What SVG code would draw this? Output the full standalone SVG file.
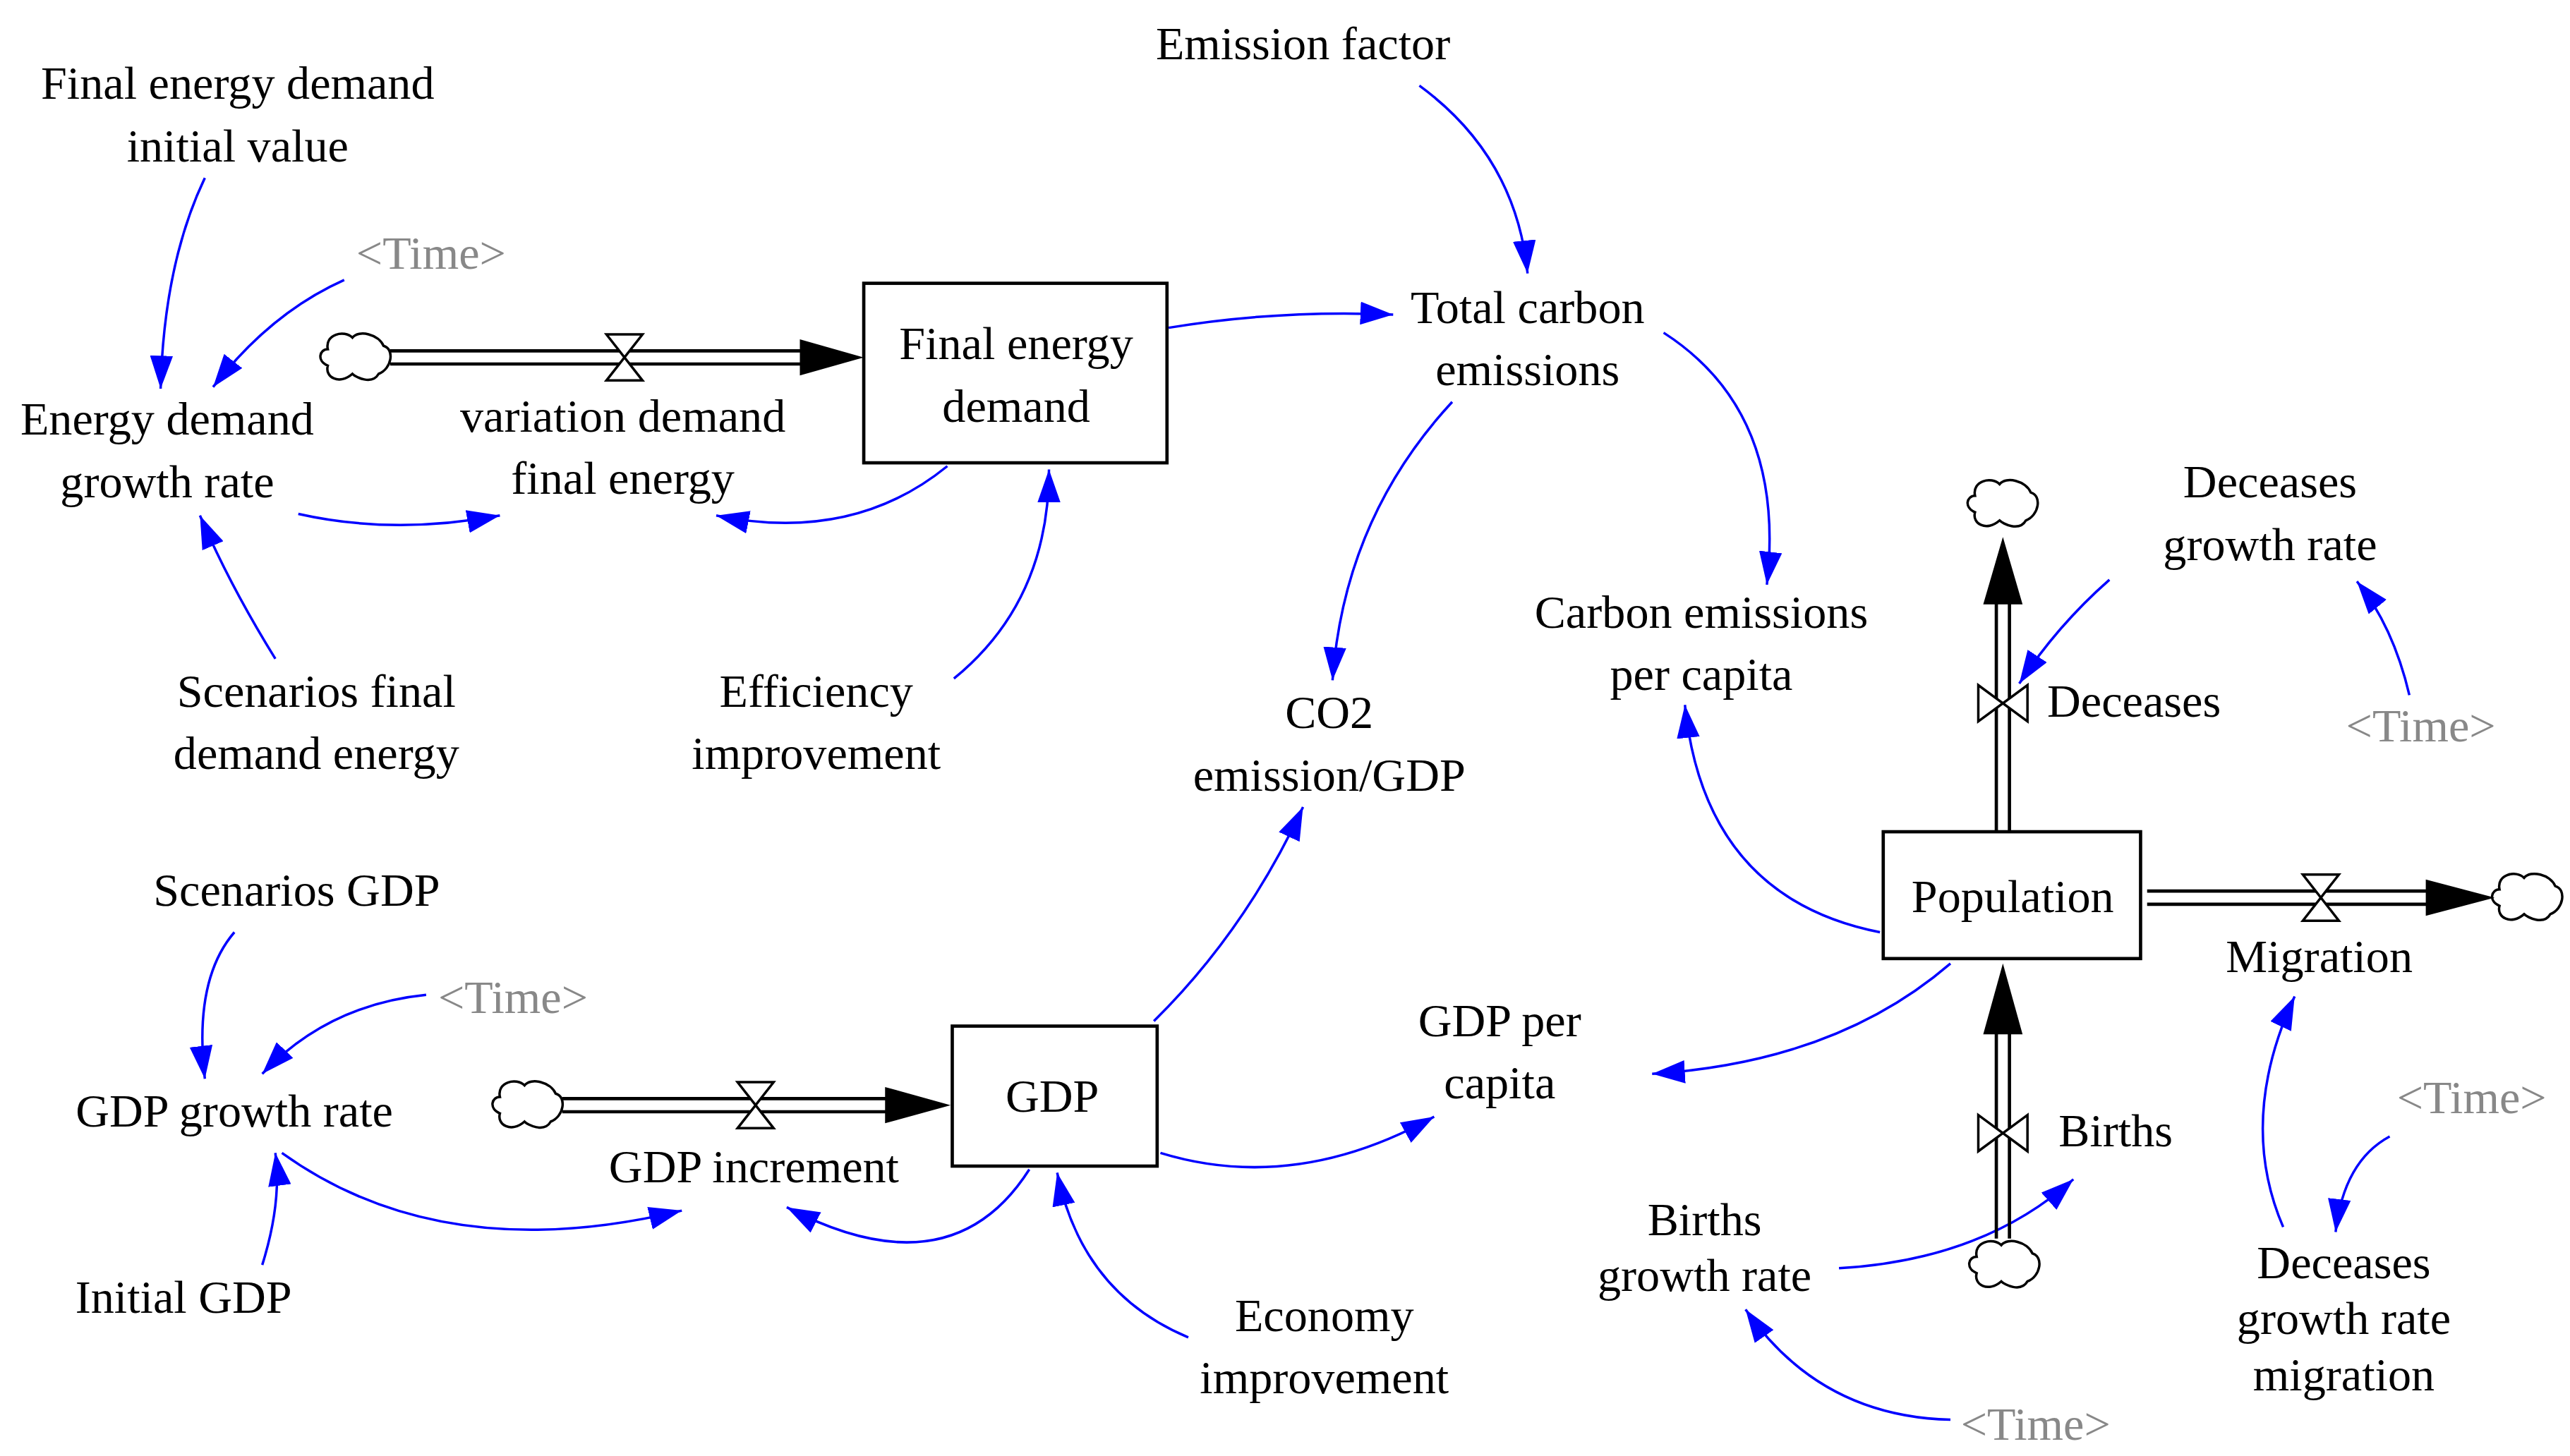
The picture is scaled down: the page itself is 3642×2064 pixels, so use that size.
<svg xmlns="http://www.w3.org/2000/svg" width="3642" height="2064" viewBox="0 0 3642 2064">
<style>
text{font-family:"Liberation Serif","Times New Roman",serif;font-size:28.5px;fill:#000;text-anchor:middle}
.g{fill:#888}
.l{text-anchor:start}
.c{fill:none;stroke:#0000ff;stroke-width:1.5;marker-end:url(#a)}
.box{fill:#fff;stroke:#000;stroke-width:2}
.p{stroke:#000;stroke-width:2;fill:none}
.cl{fill:#fff;stroke:#000;stroke-width:1.5}
.v{fill:#fff;stroke:#000;stroke-width:1.5}
</style>
<defs>
<marker id="a" viewBox="0 0 20 14" refX="20" refY="7" markerWidth="20" markerHeight="14" orient="auto" markerUnits="userSpaceOnUse"><path d="M0,0L20,7L0,14z" fill="#0000ff"/></marker>
<path id="cloud" d="M-17,-5C-19,-14 -7,-17 -2,-12C2,-17 14,-14 17,-7C24,-5 22,7 14,10C10,17 0,12 -2,10C-10,17 -19,12 -17,5C-24,2 -22,-5 -17,-5z"/>
</defs>
<rect width="3642" height="2064" fill="#fff"/>
<g transform="scale(2.3227,2.3348)">
<g id="connectors">
<path class="c" d="M125,108Q100,160 98,236"/>
<path class="c" d="M210,170Q165,190 130,235"/>
<path class="c" d="M182,312Q240,325 305,313"/>
<path class="c" d="M578,283Q520,330 437,313"/>
<path class="c" d="M168,400Q140,355 122,313"/>
<path class="c" d="M582,412Q640,365 640,285"/>
<path class="c" d="M713,199Q780,188 850,191"/>
<path class="c" d="M866,52Q925,95 932,166"/>
<path class="c" d="M886,244Q820,315 813,413"/>
<path class="c" d="M1015,202Q1090,250 1078,355"/>
<path class="c" d="M1147,566Q1040,545 1028,428"/>
<path class="c" d="M1287,352Q1255,380 1232,415"/>
<path class="c" d="M1470,422Q1460,380 1438,353"/>
<path class="c" d="M143,566Q118,595 125,655"/>
<path class="c" d="M260,604Q200,610 160,652"/>
<path class="c" d="M172,700Q270,770 416,735"/>
<path class="c" d="M160,768Q172,730 168,700"/>
<path class="c" d="M628,710Q580,785 480,733"/>
<path class="c" d="M725,812Q660,785 645,712"/>
<path class="c" d="M704,620Q760,565 795,490"/>
<path class="c" d="M708,700Q790,725 875,678"/>
<path class="c" d="M1190,585Q1120,645 1008,652"/>
<path class="c" d="M1122,770Q1210,765 1265,716"/>
<path class="c" d="M1190,862Q1110,860 1065,795"/>
<path class="c" d="M1393,745Q1365,680 1400,605"/>
<path class="c" d="M1458,690Q1430,705 1425,748"/>
</g>
<g id="flow-energy">
<use href="#cloud" x="217" y="217" class="cl"/>
<path class="p" d="M238,213H490M238,221H490"/>
<path d="M488,206L527,217L488,228z"/>
<path class="v" d="M370,203H392L370,231H392z"/>
</g>
<g id="flow-gdp">
<use href="#cloud" x="322" y="671" class="cl"/>
<path class="p" d="M343,667H542M343,675H542"/>
<path d="M540,660L580,671L540,682z"/>
<path class="v" d="M450,657H472L450,685H472z"/>
</g>
<g id="flow-deceases">
<use href="#cloud" x="1222" y="306" class="cl"/>
<path class="p" d="M1218,505V365M1226,505V365"/>
<path d="M1210,367L1222,326L1234,367z"/>
<path class="v" d="M1207,416V438L1237,416V438z"/>
</g>
<g id="flow-births">
<use href="#cloud" x="1223" y="768" class="cl"/>
<path class="p" d="M1218,752V625M1226,752V625"/>
<path d="M1210,628L1222,585L1234,628z"/>
<path class="v" d="M1207,677V699L1237,677V699z"/>
</g>
<g id="flow-migration">
<use href="#cloud" x="1542" y="545" class="cl"/>
<path class="p" d="M1310,541H1482M1310,549H1482"/>
<path d="M1480,534L1522,545L1480,556z"/>
<path class="v" d="M1405,531H1427L1405,559H1427z"/>
</g>
<g id="n-fed"><rect class="box" x="527" y="172" width="185" height="109"/><text x="620" y="218">Final energy</text><text x="620" y="256">demand</text></g>
<g id="n-gdp"><rect class="box" x="581" y="623" width="125" height="85"/><text x="642" y="675">GDP</text></g>
<g id="n-pop"><rect class="box" x="1149" y="505" width="157" height="77"/><text x="1228" y="554">Population</text></g>
<g id="n-fediv"><text x="145" y="60">Final energy demand</text><text x="145" y="98">initial value</text></g>
<g id="n-time1"><text class="g" x="263" y="163">&lt;Time&gt;</text></g>
<g id="n-edgr"><text x="102" y="264">Energy demand</text><text x="102" y="302">growth rate</text></g>
<g id="n-vdfe"><text x="380" y="262">variation demand</text><text x="380" y="300">final energy</text></g>
<g id="n-ef"><text x="795" y="36">Emission factor</text></g>
<g id="n-tce"><text x="932" y="196">Total carbon</text><text x="932" y="234">emissions</text></g>
<g id="n-cepc"><text x="1038" y="381">Carbon emissions</text><text x="1038" y="419">per capita</text></g>
<g id="n-sfde"><text x="193" y="429">Scenarios final</text><text x="193" y="467">demand energy</text></g>
<g id="n-ei"><text x="498" y="429">Efficiency</text><text x="498" y="467">improvement</text></g>
<g id="n-co2"><text x="811" y="442">CO2</text><text x="811" y="480">emission/GDP</text></g>
<g id="n-sgdp"><text x="181" y="550">Scenarios GDP</text></g>
<g id="n-time2"><text class="g" x="313" y="615">&lt;Time&gt;</text></g>
<g id="n-ggr"><text x="143" y="684">GDP growth rate</text></g>
<g id="n-gi"><text x="460" y="718">GDP increment</text></g>
<g id="n-gpc"><text x="915" y="629">GDP per</text><text x="915" y="667">capita</text></g>
<g id="n-igdp"><text x="112" y="797">Initial GDP</text></g>
<g id="n-eci"><text x="808" y="808">Economy</text><text x="808" y="846">improvement</text></g>
<g id="n-dec"><text class="l" x="1249" y="435">Deceases</text></g>
<g id="n-dgr"><text x="1385" y="302">Deceases</text><text x="1385" y="340">growth rate</text></g>
<g id="n-time3"><text class="g" x="1477" y="450">&lt;Time&gt;</text></g>
<g id="n-mig"><text x="1415" y="590">Migration</text></g>
<g id="n-bir"><text class="l" x="1256" y="696">Births</text></g>
<g id="n-bgr"><text x="1040" y="750">Births</text><text x="1040" y="784">growth rate</text></g>
<g id="n-time4"><text class="g" x="1242" y="874">&lt;Time&gt;</text></g>
<g id="n-time5"><text class="g" x="1508" y="676">&lt;Time&gt;</text></g>
<g id="n-dgrm"><text x="1430" y="776">Deceases</text><text x="1430" y="810">growth rate</text><text x="1430" y="844">migration</text></g>
</g>
</svg>
